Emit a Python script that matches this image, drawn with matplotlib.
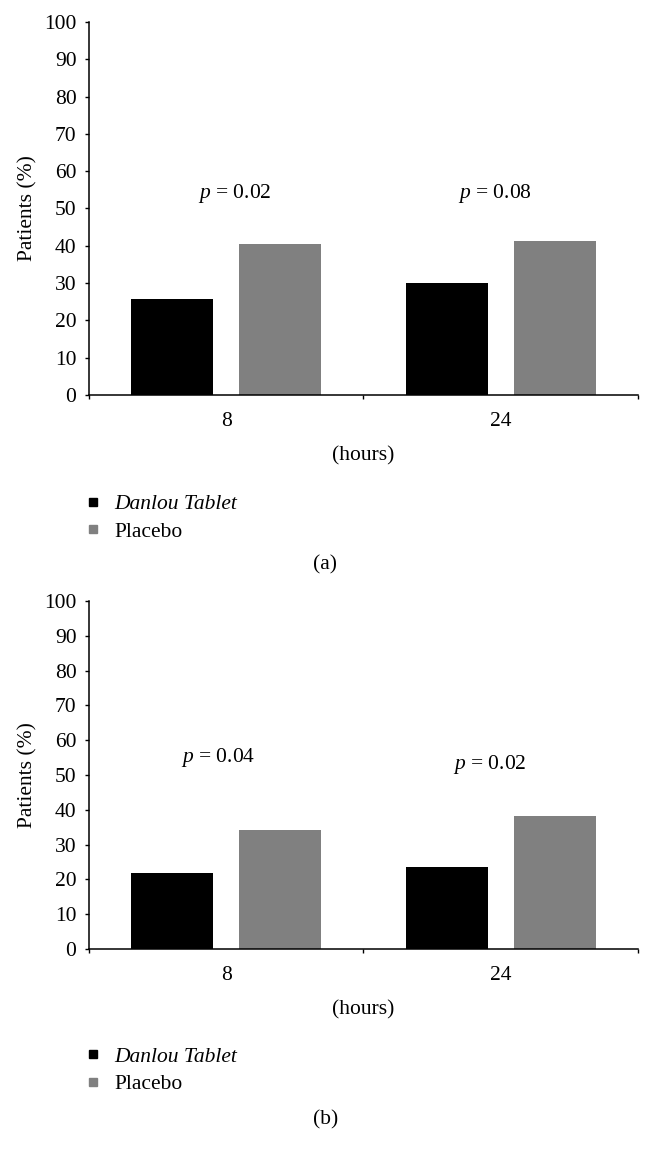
import matplotlib.pyplot as plt
from matplotlib.lines import Line2D

plt.rcParams['font.family'] = ['Liberation Serif', 'DejaVu Serif']
plt.rcParams['mathtext.fontset'] = 'custom'
plt.rcParams['mathtext.it'] = 'Liberation Serif:italic'
plt.rcParams['mathtext.rm'] = 'Liberation Serif'

hours = ['8', '24']
danlou_a = [25.7, 30.0]
placebo_a = [40.6, 41.4]
pvals_a = ['0.02', '0.08']
danlou_b = [21.8, 23.6]
placebo_b = [34.3, 38.1]
pvals_b = ['0.04', '0.02']

BLACK = '#000000'
GREY = '#808080'
FS = 15.5

fig = plt.figure(figsize=(6.51, 11.61), dpi=100)

panels = [
    # axes rect, data, p values, p label spots (x, y), panel tag, tag y, legend y
    ([0.1367, 0.6598, 0.8433, 0.3213], danlou_a, placebo_a, pvals_a, [(0.03, 54), (0.98, 54)], '(a)', 0.5135, 0.5745),
    ([0.1367, 0.1826, 0.8433, 0.2997], danlou_b, placebo_b, pvals_b, [(-0.03, 55), (0.96, 53)], '(b)', 0.0355, 0.0985),
]

for rect, dan, plac, pv, ppos, tag, tag_y, leg_y in panels:
    ax = fig.add_axes(rect)
    x = range(len(hours))
    ax.bar([i - 0.197 for i in x], dan, width=0.298, color=BLACK)
    ax.bar([i + 0.197 for i in x], plac, width=0.298, color=GREY)

    ax.set_xlim(-0.5, 1.5)
    ax.set_ylim(0, 100)
    ax.set_yticks(range(0, 101, 10))
    ax.set_xticks(list(x))
    ax.set_xticklabels(hours)
    ax.set_xticks([-0.5, 0.5, 1.5], minor=True)
    ax.tick_params(axis='x', which='major', length=0, pad=12, labelsize=FS)
    ax.tick_params(axis='x', which='minor', length=3, direction='out', width=1)
    ax.tick_params(axis='y', length=3, direction='out', width=1, labelsize=FS, pad=6)
    for s in ['top', 'right']:
        ax.spines[s].set_visible(False)
    for s in ['left', 'bottom']:
        ax.spines[s].set_linewidth(1.1)

    ax.set_ylabel('Patients (%)', fontsize=FS, labelpad=5)
    ax.set_xlabel('(hours)', fontsize=FS, labelpad=11)

    for (px, py), p in zip(ppos, pv):
        ax.text(px, py, '$\\it{p}$ = ' + p, ha='center', va='center', fontsize=FS)

    handles = [Line2D([], [], marker='s', color=BLACK, linestyle='none', markersize=5.5),
               Line2D([], [], marker='s', color=GREY, linestyle='none', markersize=5.5)]
    leg = fig.legend(handles, ['Danlou Tablet', 'Placebo'], loc='upper left',
                     bbox_to_anchor=(0.133, leg_y), frameon=False, fontsize=FS,
                     handlelength=0.6, handletextpad=0.7, labelspacing=0.35,
                     borderaxespad=0, borderpad=0)
    leg.get_texts()[0].set_style('italic')

    fig.text(0.5, tag_y, tag, ha='center', va='center', fontsize=FS)

fig.savefig('out.png', dpi=100)
